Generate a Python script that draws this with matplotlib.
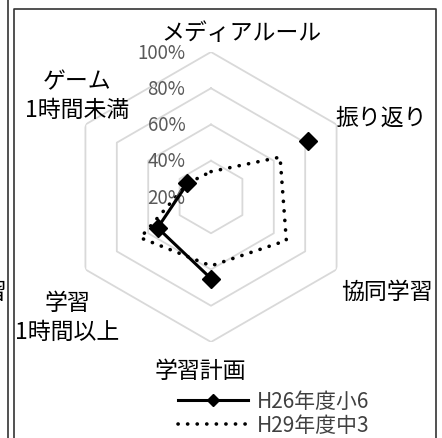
import numpy as np
import matplotlib
matplotlib.use("Agg")
import matplotlib.pyplot as plt
from matplotlib.lines import Line2D

plt.rcParams['font.family'] = ['Noto Sans CJK JP', 'DejaVu Sans']

# data (order: clockwise from top)
categories = ['メディアルール', '振り返り', '協同学習', '学習計画', '学習\n1時間以上', 'ゲーム\n1時間未満']
h26_sho6 = [np.nan, 82, np.nan, 65, 54, 35]
h29_chu3 = [34, 64, 68, 58, 65, 35]
series_names = ['H26年度小6', 'H29年度中3']
ring_values = [40, 60, 80, 100]
tick_values = [20, 40, 60, 80, 100]

W, H = 442, 439
fig = plt.figure(figsize=(W / 100, H / 100), dpi=100)


def px(x, y):
    # pixel (from top-left) -> figure fraction
    return x / W, 1 - y / H


cx, cy, R = 211, 198, 145
ax = fig.add_axes([(cx - R) / W, (H - cy - R) / H, 2 * R / W, 2 * R / H], projection='polar')
ax.set_theta_zero_location('N')
ax.set_theta_direction(-1)
ax.set_ylim(20, 100)
ax.grid(False)
ax.set_xticks([])
ax.set_yticks([])
ax.spines['polar'].set_visible(False)
ax.patch.set_alpha(0)

n = len(categories)
angles = np.linspace(0, 2 * np.pi, n, endpoint=False)
ang_c = np.append(angles, angles[0])

# hexagonal gridlines
for v in ring_values:
    ax.plot(ang_c, [v] * (n + 1), color='#d9d9d9', lw=1.3, zorder=1)

for v in tick_values:
    ax.annotate(f'{v}%', xy=(0, v), xytext=(-18.5, 0), textcoords='offset points',
                ha='right', va='center', color='#595959', fontsize=13.5)

l1, = ax.plot(ang_c, h26_sho6 + h26_sho6[:1], color='black', lw=2.2,
              marker='D', markersize=9, zorder=3)
l2, = ax.plot(ang_c, h29_chu3 + h29_chu3[:1], color='black', lw=2.6,
              linestyle=(0, (0.05, 2.6)), dash_capstyle='round', zorder=2)

# category labels
label_pos = [(241, 33), (381, 118), (387, 292), (200, 372), (67, 318), (77, 96)]
for lab, (x, y) in zip(categories, label_pos):
    fig.text(*px(x, y), lab, ha='center', va='center', fontsize=16.5,
             linespacing=1.3, color='black')

# neighbouring chart's label, cut off at the left edge
fig.text(*px(7, 292), '協同学習', ha='right', va='center', fontsize=16.5, color='black')

fig.legend([l1, l2], series_names, loc='upper left', bbox_to_anchor=px(178, 391),
           frameon=False, handlelength=3.36, handletextpad=0.43, labelspacing=0.12,
           borderpad=0, borderaxespad=0, fontsize=15, markerscale=0.7,
           labelcolor='#404040')

# chart frames
fc = '#333333'
fig.add_artist(Line2D([8 / W, 8 / W], [0, 1], transform=fig.transFigure, color=fc, lw=1.2))
fig.add_artist(Line2D([14 / W, 14 / W, 435.5 / W, 435.5 / W], [0, 1 - 10 / H, 1 - 10 / H, 0],
                      transform=fig.transFigure, color=fc, lw=1.2))

fig.savefig('out.png', dpi=100)
